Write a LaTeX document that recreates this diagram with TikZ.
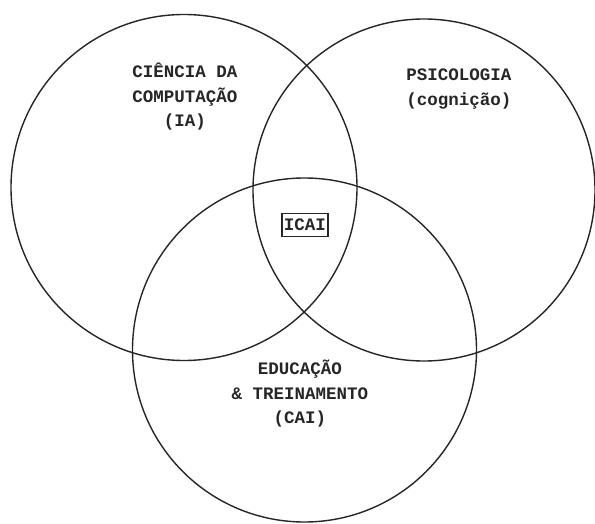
\documentclass[tikz,border=0pt]{standalone}
\usepackage{fontspec}
\newfontfamily\tw{Liberation Mono}
\begin{document}
\begin{tikzpicture}[x=1pt,y=-1pt,
  ring/.style={draw=black!85,line width=1.4pt},
  lbl/.style={font=\tw\bfseries\fontsize{17.5}{24.5}\selectfont,align=center,text=black!85,inner sep=0pt},
  boxlbl/.style={font=\tw\bfseries\fontsize{17.5}{21}\selectfont,draw=black!85,line width=1.3pt,inner xsep=2pt,inner ysep=5.5pt,text=black!85}]
\useasboundingbox[fill=white] (0,0) rectangle (595,524);
\draw[ring] (184,187.5) circle[radius=173pt];
\draw[ring] (424,190) circle[radius=171pt];
\draw[ring] (304.5,350) circle[radius=172pt];
\node[lbl] (cc) at (185,97) {CIÊNCIA DA\\COMPUTAÇÃO\\(IA)};
\node[lbl] (psi) at (459,89) {PSICOLOGIA\\(cognição)};
\node[lbl] (edu) at (300,394) {EDUCAÇÃO\\\& TREINAMENTO\\(CAI)};
\node[boxlbl] (icai) at (305,225) {ICAI};
\end{tikzpicture}
\end{document}
